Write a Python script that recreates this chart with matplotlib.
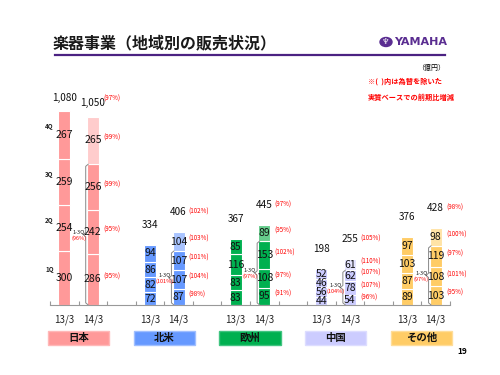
import numpy as np
import matplotlib
matplotlib.use("Agg")
import matplotlib.pyplot as plt
import matplotlib.transforms as mtransforms
from matplotlib.patches import Rectangle, Circle

plt.rcParams['font.family'] = ['Noto Sans CJK JP', 'DejaVu Sans']

# data (億円), quarters 1Q..4Q
regions = ['日本', '北米', '欧州', '中国', 'その他']
years = ['13/3', '14/3']
q_1303 = [[300, 254, 259, 267],
          [72, 82, 86, 94],
          [83, 83, 116, 85],
          [44, 56, 46, 52],
          [89, 87, 103, 97]]
q_1403 = [[286, 242, 256, 265],
          [87, 107, 107, 104],
          [95, 108, 153, 89],
          [54, 78, 62, 61],
          [103, 108, 119, 98]]
tot_1303 = [1080, 334, 367, 198, 376]
tot_1403 = [1050, 406, 445, 255, 428]
# growth excluding FX (%)
pct_q = [[95, 95, 99, 99],
         [98, 104, 101, 103],
         [91, 97, 102, 95],
         [96, 107, 107, 110],
         [95, 101, 97, 100]]
pct_tot = [97, 102, 97, 105, 98]
pct_13q = [96, 101, 97, 104, 97]

colors = ['#FF9999', '#6699FF', '#00B050', '#CCCCFF', '#FFCC66']
light = ['#FFCCCC', '#A9C4FF', '#66CC8C', '#E3E3FF', '#FFE3A6']
edges = ['#FFB8B8', '#A0BFFF', '#40C480', '#DDDDFF', '#FFDD99']

W, H = 500, 375
fig = plt.figure(figsize=(5, 3.75), dpi=100)


def fpos(x, y):
    return x / W, 1 - y / H


# header
fig.text(*fpos(53, 43), '楽器事業（地域別の販売状況）', fontsize=11.5,
         fontweight='bold', va='center', ha='left', color='#1a1a1a')
fig.add_artist(plt.Line2D([55 / W, 445 / W], [1 - 55 / H, 1 - 55 / H],
                          color='#4B2282', lw=1.6))
fig.add_artist(Circle(fpos(386, 42), 6 / W, transform=fig.transFigure,
                      color='#5A2D91'))
fig.text(*fpos(386, 42), '♆', fontsize=6, color='white', ha='center',
         va='center', family=['DejaVu Sans'])
fig.text(*fpos(394, 42), 'YAMAHA', fontsize=8, fontweight='bold',
         color='#5A2D91', va='center', ha='left', family=['DejaVu Sans'])
fig.text(*fpos(445, 68), '（億円）', fontsize=5, ha='right', va='center')
fig.text(*fpos(368, 81), '※(  )内は為替を除いた', fontsize=5.2, color='red',
         fontweight='bold', ha='left', va='center')
fig.text(*fpos(368, 97), '実質ベースでの前期比増減', fontsize=5.2, color='red',
         fontweight='bold', ha='left', va='center')
fig.text(*fpos(462, 352), '19', fontsize=6, fontweight='bold', ha='center',
         va='center')

ax = fig.add_axes([50 / W, 70 / H, 400 / W, 194 / H])
ax.set_xlim(-0.5, 13.5)
ax.set_ylim(0, 1080)
for s in ['top', 'left', 'right']:
    ax.spines[s].set_visible(False)
ax.spines['bottom'].set_color('#999999')
ax.set_yticks([])
ax.set_xticks(np.arange(-0.5, 14, 1.0))
ax.tick_params(axis='x', direction='in', length=3, color='#999999',
               labelbottom=False)
ax.patch.set_alpha(0)
bt = mtransforms.blended_transform_factory(ax.transData, ax.transAxes)

bw = 0.42
for i in range(len(regions)):
    x0 = 3 * i
    x1 = 3 * i + 1
    for x, vals, tot in [(x0, q_1303[i], tot_1303[i]), (x1, q_1403[i], tot_1403[i])]:
        bottoms = np.concatenate([[0], np.cumsum(vals)[:-1]])
        cols = [colors[i]] * 4
        if x == x1:
            cols[3] = light[i]
        ax.bar([x] * 4, vals, bottom=bottoms, width=bw, color=cols,
               edgecolor='white', linewidth=0.8)
        for v, b in zip(vals, bottoms):
            ax.text(x, b + v / 2, str(v), ha='center', va='center',
                    fontsize=7.5, color='#111111')
        off = 6 if i == 0 else 11
        ax.annotate(f'{tot:,}', (x, sum(vals)), xytext=(0, off),
                    textcoords='offset points', ha='center', va='bottom',
                    fontsize=7.2, color='#111111')
        ax.text(x, -0.077, years[x - x0], transform=bt, ha='center',
                va='center', fontsize=7, color='#222222')
    # percentages for 14/3
    vals = q_1403[i]
    bottoms = np.concatenate([[0], np.cumsum(vals)[:-1]])
    px = x1 + bw / 2 + 0.15
    for v, b, p in zip(vals, bottoms, pct_q[i]):
        ax.text(px, b + v / 2 + 15, f'({p}%)', ha='left', va='center',
                fontsize=4.5, color='red')
    off = 13 if i == 0 else 15
    ax.annotate(f'({pct_tot[i]}%)', (px, sum(vals)), xytext=(0, off),
                textcoords='offset points', ha='left', va='center',
                fontsize=4.5, color='red')
    # 1-3Q bracket
    top = sum(vals[:3])
    mid = top / 2
    bx = x1 - bw / 2 - 0.04
    d, h = 0.09, 12
    ax.plot([bx + d, bx, bx, bx - d, bx, bx, bx + d],
            [top, top - h, mid + h, mid, mid - h, h, 0],
            color='#888888', lw=0.7, solid_capstyle='round', clip_on=False)
    ax.text(x0 + 0.5, mid + 16, '1-3Q', ha='center', va='center',
            fontsize=4, color='#222222')
    ax.text(x0 + 0.5, mid - 20, f'({pct_13q[i]}%)', ha='center', va='center',
            fontsize=4, color='red')
    # region label box
    ax.add_patch(Rectangle((x0 + 0.5 - 1.07, -0.206), 2.14, 0.072,
                           transform=bt, facecolor=colors[i],
                           edgecolor=edges[i], lw=1, clip_on=False))
    ax.text(x0 + 0.5, -0.17, regions[i], transform=bt, ha='center',
            va='center', fontsize=7.5, fontweight='bold', color='#111111')

# quarter labels beside first bar
cum = np.cumsum(q_1303[0])
starts = cum - np.array(q_1303[0])
for k, (s, v) in enumerate(zip(starts, q_1303[0])):
    ax.text(-0.52, s + v / 2 + 45, f'{k + 1}Q', ha='center', va='center',
            fontsize=4.5, fontweight='bold', color='#222222')

fig.savefig('out.png', dpi=100)
